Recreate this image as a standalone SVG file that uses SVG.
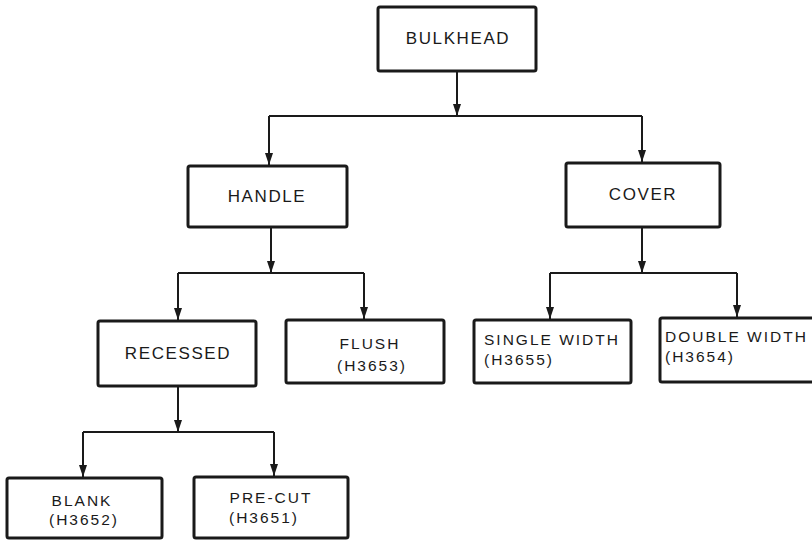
<svg xmlns="http://www.w3.org/2000/svg" width="812" height="540" viewBox="0 0 812 540">
<style>
.box{fill:#fff;stroke:#1a1a1a;stroke-width:3;}
.t{font-family:"Liberation Sans",Arial,sans-serif;font-size:17px;fill:#1a1a1a;letter-spacing:1.6px;}
.s{font-family:"Liberation Sans",Arial,sans-serif;font-size:15.5px;fill:#1a1a1a;letter-spacing:2px;}
.c{text-anchor:middle;}
.ln{fill:none;stroke:#1a1a1a;stroke-width:2;}
.ah{fill:#1a1a1a;}
</style>
<rect width="812" height="540" fill="#fff"/>
<g id="connectors">
<path class="ln" d="M457,71 V115"/>
<path class="ah" d="M453,104 L457,116 L461,104 z"/>
<path class="ln" d="M269,116 H642"/>
<path class="ln" d="M269,116 V165"/>
<path class="ah" d="M265,153 L269,165 L273,153 z"/>
<path class="ln" d="M642,116 V162"/>
<path class="ah" d="M638,150 L642,162 L646,150 z"/>
<path class="ln" d="M271,228 V272"/>
<path class="ah" d="M267,261 L271,273 L275,261 z"/>
<path class="ln" d="M178,273 H364"/>
<path class="ln" d="M178,273 V320"/>
<path class="ah" d="M174,308 L178,320 L182,308 z"/>
<path class="ln" d="M364,273 V319"/>
<path class="ah" d="M360,307 L364,319 L368,307 z"/>
<path class="ln" d="M642,228 V272"/>
<path class="ah" d="M638,261 L642,273 L646,261 z"/>
<path class="ln" d="M550,273 H737"/>
<path class="ln" d="M550,273 V319"/>
<path class="ah" d="M546,307 L550,319 L554,307 z"/>
<path class="ln" d="M737,273 V317"/>
<path class="ah" d="M733,305 L737,317 L741,305 z"/>
<path class="ln" d="M178,387 V431"/>
<path class="ah" d="M174,420 L178,432 L182,420 z"/>
<path class="ln" d="M83,432 H274"/>
<path class="ln" d="M83,432 V477"/>
<path class="ah" d="M79,465 L83,477 L87,465 z"/>
<path class="ln" d="M274,432 V476"/>
<path class="ah" d="M270,464 L274,476 L278,464 z"/>
</g>
<g id="bulkhead">
<rect class="box" x="378" y="7" width="158" height="64" rx="2"/>
<text class="t c" x="458" y="44">BULKHEAD</text>
</g>
<g id="handle">
<rect class="box" x="188" y="166" width="159" height="61" rx="2"/>
<text class="t c" x="267" y="202">HANDLE</text>
</g>
<g id="cover">
<rect class="box" x="566" y="163" width="154" height="64" rx="2"/>
<text class="t c" x="643" y="200">COVER</text>
</g>
<g id="recessed">
<rect class="box" x="98" y="321" width="158" height="65" rx="2"/>
<text class="t c" x="178" y="359">RECESSED</text>
</g>
<g id="flush">
<rect class="box" x="286" y="320" width="158" height="63" rx="2"/>
<text class="s c" x="370" y="349">FLUSH</text>
<text class="s c" x="372" y="371">(H3653)</text>
</g>
<g id="single-width">
<rect class="box" x="474" y="320" width="157" height="63" rx="2"/>
<text class="s" x="484" y="345">SINGLE WIDTH</text>
<text class="s" x="484" y="365">(H3655)</text>
</g>
<g id="double-width">
<rect class="box" x="660" y="318" width="160" height="64" rx="2"/>
<text class="s" x="665" y="342">DOUBLE WIDTH</text>
<text class="s" x="665" y="362">(H3654)</text>
</g>
<g id="blank">
<rect class="box" x="7" y="478" width="155" height="60" rx="2"/>
<text class="s c" x="82" y="506">BLANK</text>
<text class="s c" x="84" y="525">(H3652)</text>
</g>
<g id="pre-cut">
<rect class="box" x="194" y="477" width="154" height="61" rx="2"/>
<text class="s c" x="271" y="503">PRE-CUT</text>
<text class="s c" x="264" y="523">(H3651)</text>
</g>
</svg>
